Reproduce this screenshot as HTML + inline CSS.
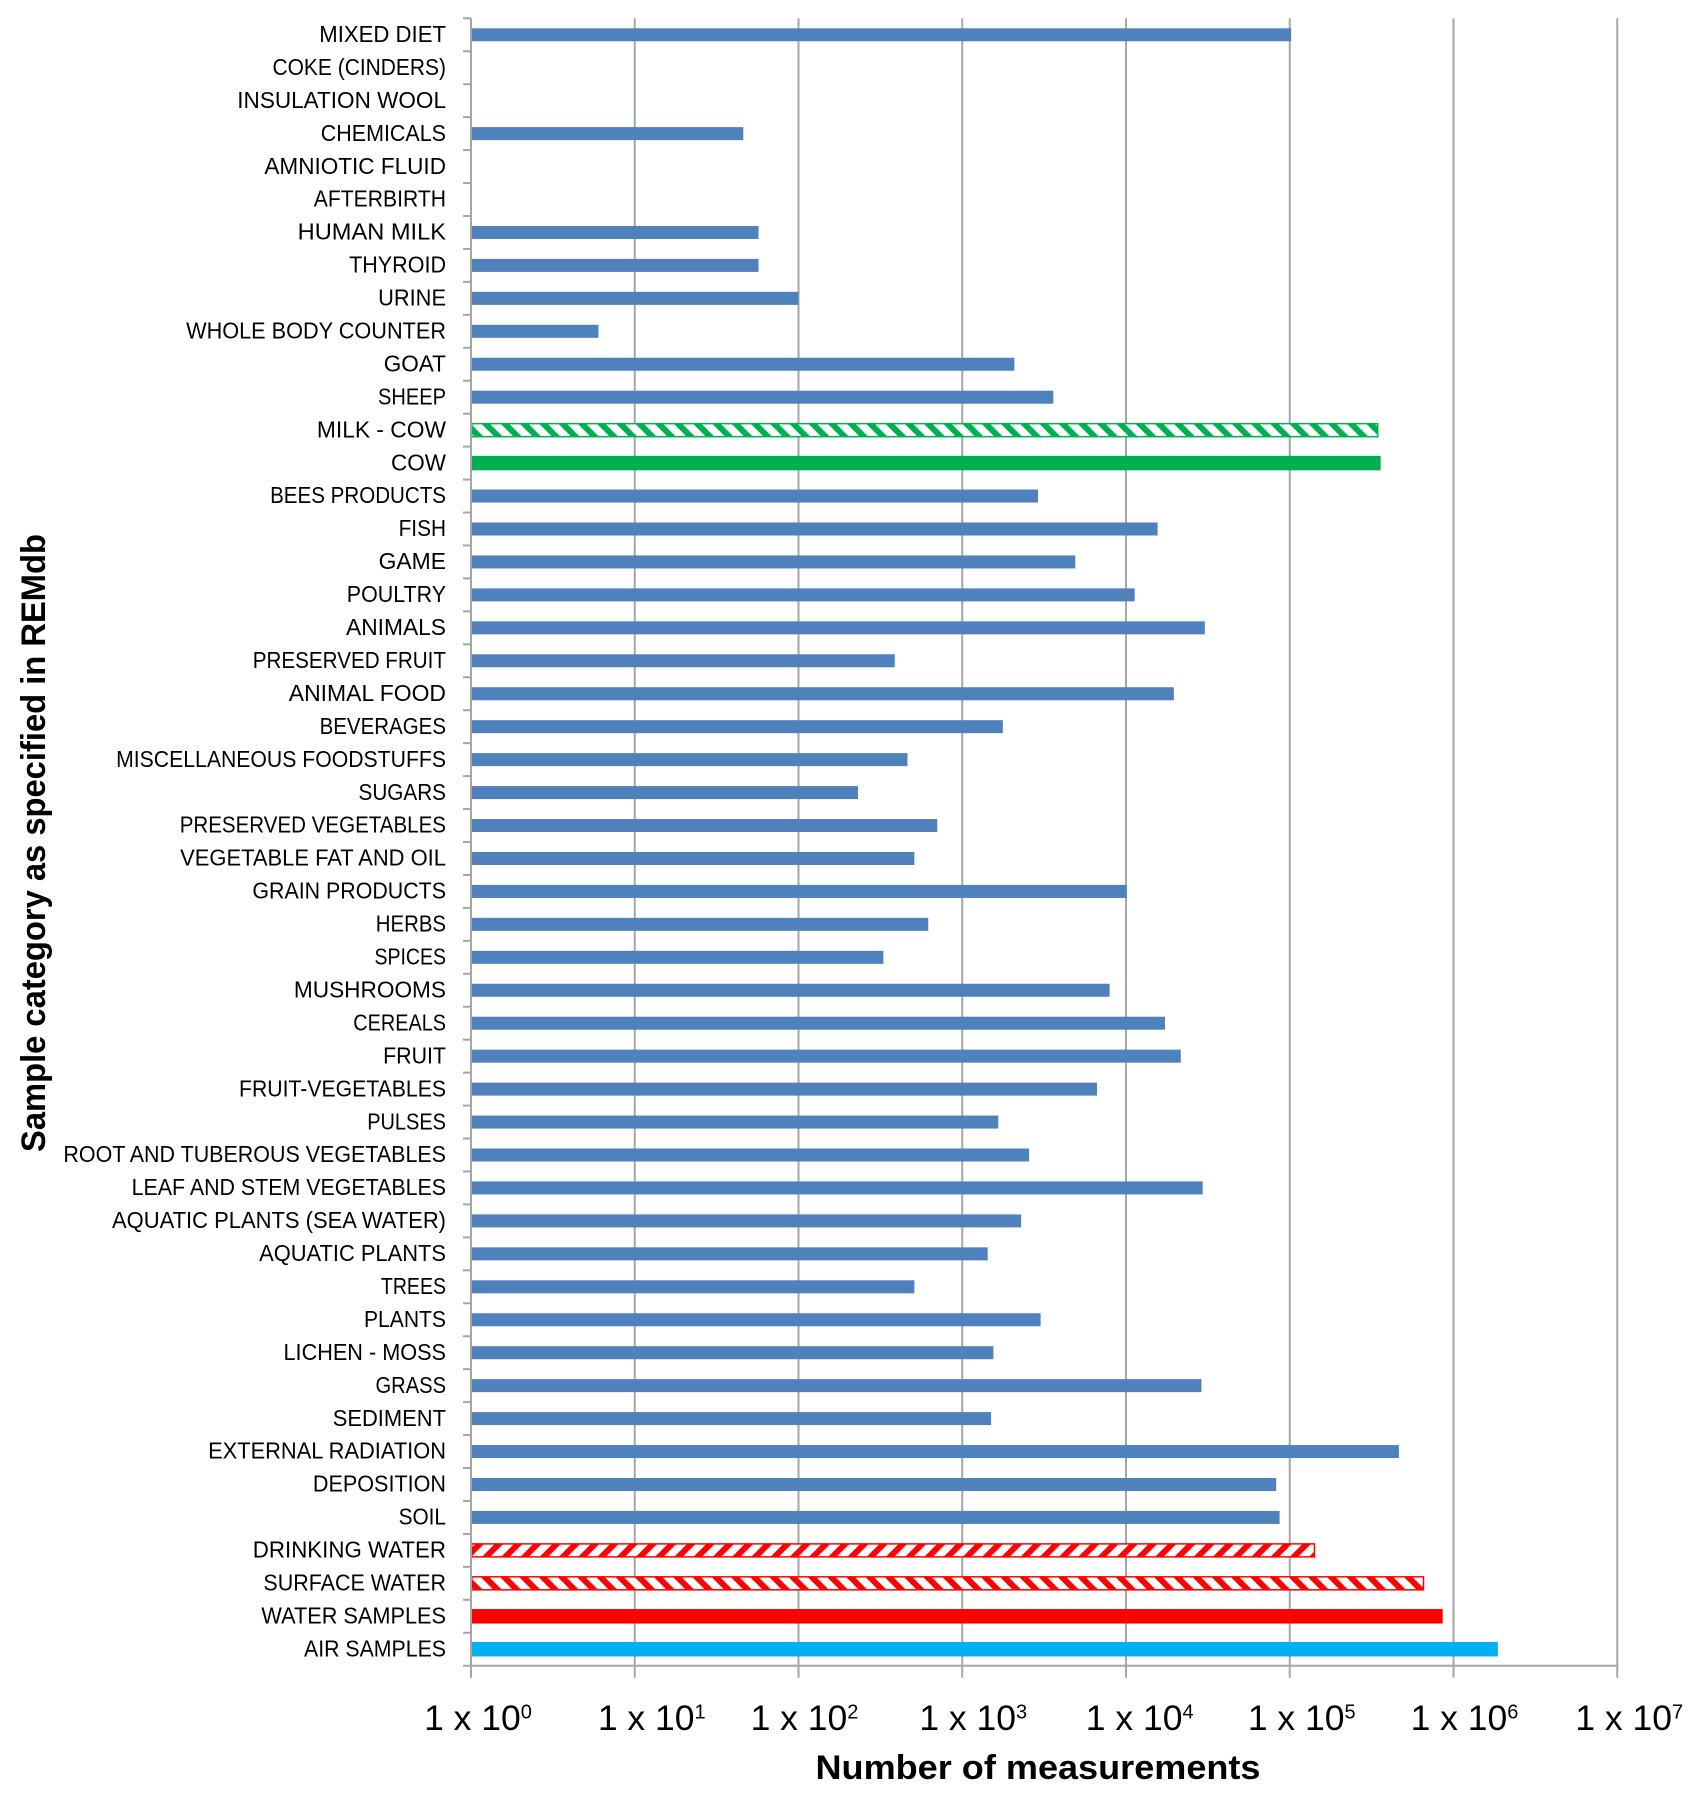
<!DOCTYPE html>
<html lang="en">
<head>
<meta charset="utf-8">
<title>Sample categories in REMdb</title>
<style>
  html, body { margin: 0; padding: 0; background: #fff; }
  svg { display: block; font-family: "Liberation Sans", sans-serif; }
</style>
</head>
<body>
<svg id="chart" xmlns="http://www.w3.org/2000/svg" width="1701" height="1801" viewBox="0 0 1701 1801">
  <defs>
    <pattern id="hatch-green" patternUnits="userSpaceOnUse" width="13.6" height="13.6" patternTransform="rotate(-45)">
      <rect width="13.6" height="13.6" fill="#fff"></rect>
      <rect width="6" height="13.6" fill="#00b050"></rect>
    </pattern>
    <pattern id="hatch-red-up" patternUnits="userSpaceOnUse" width="13.6" height="13.6" patternTransform="rotate(45)">
      <rect width="13.6" height="13.6" fill="#fff"></rect>
      <rect width="6" height="13.6" fill="#ff0000"></rect>
    </pattern>
    <pattern id="hatch-red-down" patternUnits="userSpaceOnUse" width="13.6" height="13.6" patternTransform="rotate(-45)">
      <rect width="13.6" height="13.6" fill="#fff"></rect>
      <rect width="6" height="13.6" fill="#ff0000"></rect>
    </pattern>
  </defs>
  <g id="grid"></g>
  <g id="bars"></g>
  <g id="axes"></g>
  <g id="cat-labels"></g>
  <g id="x-labels"></g>
  <text x="1038" y="1779" text-anchor="middle" font-size="34" font-weight="700" textLength="445" lengthAdjust="spacingAndGlyphs" fill="#000">Number of measurements</text>
  <text transform="translate(45,843) rotate(-90)" text-anchor="middle" font-size="34" font-weight="700" textLength="618" lengthAdjust="spacingAndGlyphs" fill="#000">Sample category as specified in REMdb</text>
</svg>
<script>
const categories = [
  "MIXED DIET","COKE (CINDERS)","INSULATION WOOL","CHEMICALS","AMNIOTIC FLUID","AFTERBIRTH",
  "HUMAN MILK","THYROID","URINE","WHOLE BODY COUNTER","GOAT","SHEEP","MILK - COW","COW",
  "BEES PRODUCTS","FISH","GAME","POULTRY","ANIMALS","PRESERVED FRUIT","ANIMAL FOOD","BEVERAGES",
  "MISCELLANEOUS FOODSTUFFS","SUGARS","PRESERVED VEGETABLES","VEGETABLE FAT AND OIL","GRAIN PRODUCTS",
  "HERBS","SPICES","MUSHROOMS","CEREALS","FRUIT","FRUIT-VEGETABLES","PULSES",
  "ROOT AND TUBEROUS VEGETABLES","LEAF AND STEM VEGETABLES","AQUATIC PLANTS (SEA WATER)","AQUATIC PLANTS",
  "TREES","PLANTS","LICHEN - MOSS","GRASS","SEDIMENT","EXTERNAL RADIATION","DEPOSITION","SOIL",
  "DRINKING WATER","SURFACE WATER","WATER SAMPLES","AIR SAMPLES"
];
const measurements = [
  102000,1,1,46,1,1,
  57,57,100,6,2080,3600,348000,359000,
  2900,15600,4900,11300,30300,387,19600,1770,
  463,231,704,510,10100,
  620,330,7940,17300,21600,6650,1660,
  2560,29400,2290,1430,
  510,3010,1550,28900,1500,464000,82600,86700,
  143000,663000,859000,1866000
];
const seriesKinds = [
  "b","b","b","b","b","b",
  "b","b","b","b","b","b","mg","g",
  "b","b","b","b","b","b","b","b",
  "b","b","b","b","b",
  "b","b","b","b","b","b","b",
  "b","b","b","b",
  "b","b","b","b","b","b","b","b",
  "ru","rd","r","c"
];
const xTickExponents = [0,1,2,3,4,5,6,7];

const NS = "http://www.w3.org/2000/svg";
const plotLeft = 471, decadeWidth = 163.75, plotTop = 18.3, plotBottom = 1665.7;
const bandHeight = (plotBottom - plotTop) / categories.length;
const xScale = v => plotLeft + Math.log10(v) * decadeWidth;
const yBand = i => plotTop + bandHeight * (i + 0.5);
const axisColor = "#a6a6a6";

function make(tag, attrs, parent) {
  const el = document.createElementNS(NS, tag);
  for (const k in attrs) el.setAttribute(k, attrs[k]);
  parent.appendChild(el);
  return el;
}

/* approximate advance widths of the original humanist typeface, so label lengths match */
function labelWidth(text) {
  const metric = {A:1185,B:1114,C:1092,D:1260,E:1000,F:941,G:1292,H:1276,I:516,J:653,K:1064,L:861,M:1751,N:1322,O:1356,P:1058,Q:1378,R:1112,S:941,T:998,U:1314,V:1162,W:1822,X:1063,Y:998,Z:959," ":463,"(":621,")":621,"-":627};
  let sum = 0;
  for (const ch of text) sum += metric[ch] || 1000;
  return sum / 2048 * 26.4;
}

const grid = document.getElementById("grid");
const axes = document.getElementById("axes");
const bars = document.getElementById("bars");
const catLabels = document.getElementById("cat-labels");
const xLabels = document.getElementById("x-labels");

function tickLabelOffset(e) {
  const nudge = {0:-4, 1:6, 2:-5, 3:0, 4:2.7, 5:1, 6:0, 7:1};
  return 11 + nudge[e];
}

xTickExponents.forEach(e => {
  const x = xScale(Math.pow(10, e));
  const line = make("line", {x1: x, x2: x, y1: plotTop, y2: plotBottom + 12, stroke: axisColor, "stroke-width": 2}, e === 0 ? axes : grid);
  
  

  const label = make("text", {x: x + tickLabelOffset(e), y: 1730, "text-anchor": "middle", "font-size": 35.5, fill: "#000"}, xLabels);
  
  
  label.appendChild(document.createTextNode("1 x 10"));
  const sup = make("tspan", {"font-size": 20, dy: -11.7}, label);
  sup.textContent = String(e);
});

const xAxisLine = make("line", {x1: plotLeft - 8, x2: xScale(1e7) + 1, y1: plotBottom, y2: plotBottom, stroke: axisColor, "stroke-width": 2}, axes);



for (let i = 0; i < categories.length; i++) {
  const ty = plotTop + bandHeight * i;
  const tick = make("line", {x1: plotLeft - 8, x2: plotLeft, y1: ty, y2: ty, stroke: axisColor, "stroke-width": 2}, axes);
  
  
}

categories.forEach((name, i) => {
  const cy = yBand(i);
  const label = make("text", {x: 446, y: cy + 7.2, "text-anchor": "end", "font-size": 23.3, fill: "#000", textLength: labelWidth(name).toFixed(1), lengthAdjust: "spacingAndGlyphs"}, catLabels);
  label.textContent = name;
  
  

  const w = xScale(measurements[i]) - plotLeft;
  if (w <= 0) return;
  const kind = seriesKinds[i];
  const solid = {b: "#4f81bd", g: "#00b050", r: "#ff0000", c: "#00b0f0"};
  const hatch = {mg: ["url(#hatch-green)", "#00b050"], ru: ["url(#hatch-red-up)", "#ff0000"], rd: ["url(#hatch-red-down)", "#ff0000"]};
  let bar;
  if (hatch[kind]) {
    bar = make("rect", {x: plotLeft + 0.75, y: cy - 6.5, width: w - 1.5, height: 13, fill: hatch[kind][0], stroke: hatch[kind][1], "stroke-width": 1.5}, bars);
  } else {
    const h = kind === "b" ? 13 : 14.5;
    bar = make("rect", {x: plotLeft, y: cy - h / 2, width: w, height: h, fill: solid[kind]}, bars);
  }
  
  
});
</script>
</body>
</html>
